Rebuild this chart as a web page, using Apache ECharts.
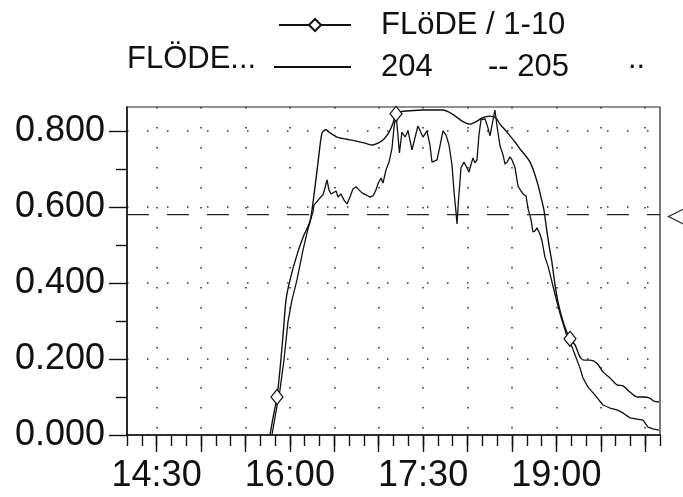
<!DOCTYPE html>
<html><head><meta charset="utf-8">
<script src="https://cdn.jsdelivr.net/npm/echarts@6/dist/echarts.min.js"></script>
<style>html,body{margin:0;padding:0;background:#fff}#c{width:683px;height:497px}</style>
</head><body><div id="c"></div>
<script>
// x values are minutes since midnight (850 = 14:10, 1210 = 20:10)
const xMin = 850, xMax = 1210;
const yMin = 0, yMax = 0.863;
const xMajorTicks = [870, 900, 930, 960, 990, 1020, 1050, 1080, 1110, 1140, 1170, 1200];
const xLabelTicks = [870, 960, 1050, 1140];
const yMajorTicks = [0, 0.2, 0.4, 0.6, 0.8];
const yMinorTicks = [0.1, 0.3, 0.5, 0.7];
const thresholdValue = 0.58;

// Series "FLöDE / 1-10" (smooth curve with diamond markers)
const timesS = [946.6, 948.6, 951.3, 953.3, 955.4, 957.4, 960.1, 964.8, 969.5, 973.6, 976.3, 979.0, 981.7, 984.4, 987.1, 991.8, 997.2, 1004.0, 1010.7, 1015.5, 1019.5, 1023.6, 1027.0, 1029.7, 1031.7, 1034.4, 1041.1, 1049.9, 1063.4, 1069.5, 1076.3, 1081.7, 1085.7, 1089.8, 1095.2, 1099.2, 1101.9, 1105.3, 1108.7, 1112.1, 1115.4, 1118.8, 1122.2, 1124.9, 1127.6, 1129.6, 1131.6, 1133.0, 1135.0, 1137.0, 1139.1, 1141.1, 1143.8, 1146.5, 1149.2, 1152.6, 1156.0, 1158.7, 1162.7, 1167.4, 1171.5, 1176.2, 1180.9, 1185.0, 1189.7, 1194.5, 1198.5, 1203.2, 1205.9, 1209.3];
const valuesS = [0, 0.045, 0.100, 0.171, 0.263, 0.355, 0.408, 0.474, 0.526, 0.561, 0.632, 0.716, 0.795, 0.803, 0.795, 0.784, 0.779, 0.774, 0.768, 0.763, 0.768, 0.779, 0.797, 0.821, 0.845, 0.850, 0.853, 0.855, 0.855, 0.845, 0.826, 0.818, 0.824, 0.834, 0.839, 0.834, 0.818, 0.803, 0.787, 0.771, 0.753, 0.737, 0.718, 0.692, 0.658, 0.626, 0.592, 0.553, 0.500, 0.455, 0.395, 0.350, 0.308, 0.276, 0.253, 0.237, 0.205, 0.197, 0.197, 0.189, 0.166, 0.150, 0.132, 0.129, 0.113, 0.100, 0.100, 0.097, 0.089, 0.087];
const markerTimes = [951.3, 1031.7, 1149.2];

// Series "204" (jagged curve)
const timesJ = [947.9, 950.6, 953.3, 956.0, 958.7, 961.4, 964.8, 968.9, 972.2, 973.6, 975.6, 976.3, 980.4, 982.4, 983.7, 985.1, 986.4, 987.8, 989.1, 991.2, 992.5, 994.5, 996.6, 998.6, 1000.6, 1002.6, 1004.7, 1006.7, 1008.7, 1011.4, 1014.1, 1016.1, 1018.2, 1019.5, 1021.5, 1022.9, 1024.9, 1027.0, 1029.0, 1030.3, 1031.7, 1033.0, 1034.0, 1035.7, 1037.8, 1039.8, 1042.5, 1044.5, 1046.5, 1048.6, 1049.9, 1052.6, 1054.6, 1056.0, 1059.4, 1061.4, 1063.4, 1065.5, 1067.5, 1069.5, 1070.9, 1072.2, 1072.9, 1073.9, 1075.6, 1077.6, 1079.6, 1081.0, 1082.3, 1083.7, 1085.0, 1086.4, 1087.7, 1089.1, 1091.8, 1093.8, 1095.2, 1097.2, 1098.5, 1099.9, 1101.9, 1104.0, 1105.3, 1106.7, 1108.7, 1110.0, 1112.1, 1114.1, 1116.1, 1118.1, 1119.5, 1120.8, 1122.9, 1124.2, 1125.6, 1126.9, 1128.9, 1130.3, 1132.3, 1134.3, 1135.7, 1137.7, 1140.4, 1143.1, 1146.5, 1149.2, 1152.6, 1156.0, 1158.0, 1161.4, 1166.1, 1171.5, 1176.2, 1180.9, 1185.0, 1189.7, 1194.5, 1198.5, 1201.9, 1205.3, 1209.3];
const valuesJ = [0, 0.061, 0.118, 0.197, 0.297, 0.355, 0.408, 0.487, 0.542, 0.561, 0.587, 0.605, 0.624, 0.632, 0.650, 0.671, 0.645, 0.634, 0.629, 0.642, 0.626, 0.634, 0.618, 0.608, 0.626, 0.647, 0.653, 0.645, 0.637, 0.632, 0.626, 0.629, 0.645, 0.661, 0.676, 0.663, 0.697, 0.718, 0.755, 0.808, 0.845, 0.789, 0.742, 0.797, 0.784, 0.800, 0.750, 0.782, 0.813, 0.795, 0.784, 0.800, 0.763, 0.718, 0.724, 0.761, 0.800, 0.789, 0.763, 0.711, 0.639, 0.587, 0.555, 0.618, 0.703, 0.718, 0.703, 0.692, 0.711, 0.729, 0.716, 0.724, 0.789, 0.829, 0.832, 0.808, 0.787, 0.829, 0.855, 0.813, 0.761, 0.737, 0.713, 0.718, 0.732, 0.724, 0.703, 0.655, 0.642, 0.632, 0.629, 0.597, 0.566, 0.534, 0.537, 0.545, 0.529, 0.511, 0.468, 0.445, 0.424, 0.392, 0.350, 0.311, 0.268, 0.245, 0.211, 0.176, 0.150, 0.126, 0.105, 0.079, 0.071, 0.066, 0.058, 0.045, 0.042, 0.039, 0.021, 0.016, 0.013];

const FONT = "'Liberation Sans', Arial, Helvetica, sans-serif";
const INK = '#111';

function fmtTime(v) {
  const h = Math.floor(v / 60), m = Math.round(v % 60);
  return h + ':' + (m < 10 ? '0' : '') + m;
}

const dataS = timesS.map((t, i) => markerTimes.indexOf(t) >= 0
  ? { value: [t, valuesS[i]] }
  : { value: [t, valuesS[i]], symbol: 'none' });
const dataJ = timesJ.map((t, i) => [t, valuesJ[i]]);
const dataT = [[xMin, thresholdValue], [xMax, thresholdValue]];

const chart = echarts.init(document.getElementById('c'), null, { renderer: 'canvas' });
const legendText = { fontSize: 31, lineHeight: 31, color: INK, fontFamily: FONT };

chart.setOption({
  animation: false,
  backgroundColor: '#fff',
  title: [
    { text: 'FLÖDE...', left: 127, top: 43.5, padding: 0,
      textStyle: { fontSize: 31, lineHeight: 31, fontWeight: 'normal', color: INK, fontFamily: FONT } },
    { text: '..', left: 628, top: 43.5, padding: 0,
      textStyle: { fontSize: 31, lineHeight: 31, fontWeight: 'normal', color: INK, fontFamily: FONT } }
  ],
  legend: [
    { data: ['FLöDE / 1-10'], left: 278, top: 9.5, padding: 0, itemWidth: 72, itemHeight: 15,
      selectedMode: false, textStyle: Object.assign({}, legendText, { padding: [0, 0, 0, 25] }) },
    { data: ['204'], left: 273, top: 43.5, padding: 0, itemWidth: 77, itemHeight: 15,
      selectedMode: false, itemStyle: { opacity: 0 },
      textStyle: Object.assign({}, legendText, { padding: [0, 0, 16, 25] }) },
    { data: [{ name: '205', icon: 'none' }], left: 483, top: 43.5, padding: 0, itemWidth: 0, itemHeight: 15,
      selectedMode: false, formatter: '-- {name}',
      textStyle: Object.assign({}, legendText, { padding: [0, 0, 16, 0] }) }
  ],
  grid: { left: 127, right: 23, top: 107, bottom: 62, show: true, borderColor: '#222', borderWidth: 1.2 },
  xAxis: [
    { type: 'value', min: xMin, max: xMax, interval: 10,
      axisLine: { show: true, lineStyle: { color: INK, width: 1.5 } },
      axisTick: { show: true, length: 11, lineStyle: { color: INK, width: 1.4 } },
      axisLabel: { show: false }, splitLine: { show: false } },
    { type: 'value', min: xMin, max: xMax, position: 'bottom',
      axisLine: { show: false },
      axisTick: { show: true, customValues: xMajorTicks, length: 17, lineStyle: { color: INK, width: 1.4 } },
      axisLabel: { show: true, customValues: xLabelTicks, formatter: fmtTime, fontSize: 36,
        color: INK, fontFamily: FONT, margin: 23 },
      splitLine: { show: true, lineStyle: { type: [1.5, 18.5], color: '#333', width: 1.6 } } }
  ],
  yAxis: [
    { type: 'value', min: yMin, max: yMax,
      axisLine: { show: true, lineStyle: { color: INK, width: 1.5 } },
      axisTick: { show: true, customValues: yMinorTicks, length: 11, lineStyle: { color: INK, width: 1.4 } },
      axisLabel: { show: false }, splitLine: { show: false } },
    { type: 'value', min: yMin, max: yMax, position: 'left',
      axisLine: { show: false },
      axisTick: { show: true, customValues: yMajorTicks, length: 18, lineStyle: { color: INK, width: 1.4 } },
      axisLabel: { show: true, customValues: yMajorTicks, formatter: v => v.toFixed(3), fontSize: 36,
        color: INK, fontFamily: FONT, margin: 22 },
      splitLine: { show: true, lineStyle: { type: [1.5, 18.5], color: '#333', width: 1.6 } } }
  ],
  series: [
    { name: 'FLöDE / 1-10', type: 'line', xAxisIndex: 0, yAxisIndex: 0, data: dataS,
      smooth: 0.25, symbol: 'diamond', symbolSize: [12, 15], showSymbol: true,
      itemStyle: { color: '#fff', borderColor: INK, borderWidth: 1.2 },
      lineStyle: { color: INK, width: 1.4 }, z: 4 },
    { name: '204', type: 'line', xAxisIndex: 0, yAxisIndex: 0, data: dataJ,
      symbol: 'none', lineStyle: { color: INK, width: 1.3 }, itemStyle: { color: INK }, z: 3 },
    { name: '205', type: 'line', xAxisIndex: 0, yAxisIndex: 0, data: dataT,
      symbol: 'none', lineStyle: { color: '#222', width: 1.2, type: [22, 18] }, itemStyle: { color: INK }, z: 2,
      markPoint: {
        silent: true,
        symbol: 'path://M12,0L0,6L12,12', symbolSize: [15, 15], symbolOffset: [16, 2],
        itemStyle: { color: 'none', borderColor: '#222', borderWidth: 1.2 },
        label: { show: false },
        data: [{ coord: [xMax, thresholdValue] }]
      } }
  ]
});
</script></body></html>
